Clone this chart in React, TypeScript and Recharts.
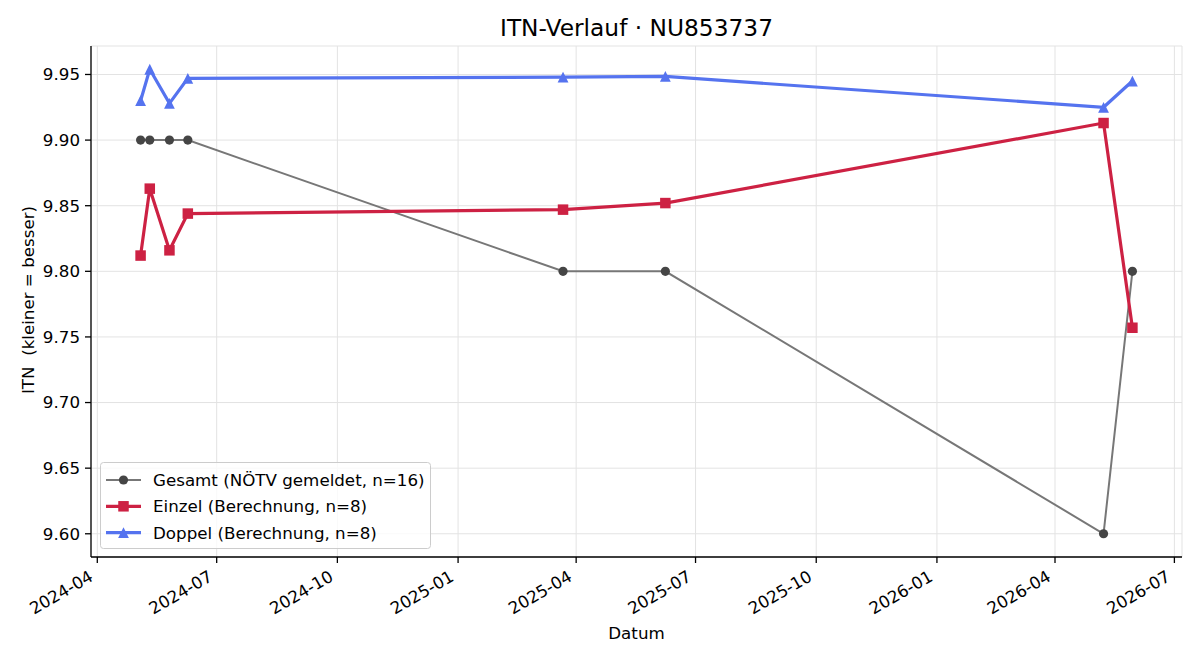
import React from 'react';
import { LineChart, Line, XAxis, YAxis, CartesianGrid, Legend } from 'recharts';

const dates = ['2024-05-04', '2024-05-11', '2024-05-26', '2024-06-09', '2025-03-22', '2025-06-08', '2026-05-08', '2026-05-30'];
const gesamt = [9.9, 9.9, 9.9, 9.9, 9.8, 9.8, 9.6, 9.8];
const einzel = [9.812, 9.863, 9.816, 9.844, 9.847, 9.852, 9.913, 9.757];
const doppel = [9.930, 9.954, 9.928, 9.947, 9.948, 9.9485, 9.925, 9.945];
const xTickLabels = ['2024-04', '2024-07', '2024-10', '2025-01', '2025-04', '2025-07', '2025-10', '2026-01', '2026-04', '2026-07'];
const yTickValues = [9.6, 9.65, 9.7, 9.75, 9.8, 9.85, 9.9, 9.95];
const seriesNames = ['Gesamt (NÖTV gemeldet, n=16)', 'Einzel (Berechnung, n=8)', 'Doppel (Berechnung, n=8)'];
const titleText = 'ITN-Verlauf · NU853737';
const yLabel = 'ITN  (kleiner = besser)';
const xLabel = 'Datum';

const toTs = (s: string) => {
  const [y, m, d] = s.split('-').map(Number);
  return Date.UTC(y, m - 1, d || 1);
};

const data = dates.map((d, i) => ({ t: toTs(d), gesamt: gesamt[i], einzel: einzel[i], doppel: doppel[i] }));
const xTicks = xTickLabels.map(toTs);

const ts = data.map((d) => d.t);
const tMin = Math.min(...ts), tMax = Math.max(...ts);
const xPad = (tMax - tMin) * 0.05;
const xDomain = [tMin - xPad, tMax + xPad];
const allY = [...gesamt, ...einzel, ...doppel];
const yMin = Math.min(...allY), yMax = Math.max(...allY);
const yPad = (yMax - yMin) * 0.05;
const yDomain = [yMin - yPad, yMax + yPad];

const GRAY_LINE = '#777777';
const GRAY_DOT = '#454545';
const RED = '#cd2143';
const BLUE = '#5573ef';
const FONT = 'DejaVu Sans, sans-serif';
const FS = 16.7;

const fmtMonth = (v: number) => {
  const d = new Date(v);
  return `${d.getUTCFullYear()}-${String(d.getUTCMonth() + 1).padStart(2, '0')}`;
};

const XTick = (props: any) => {
  const { x, y, payload } = props;
  return (
    <g transform={`translate(${x - 3},${y + 15})`}>
      <text x={0} y={0} textAnchor="end" transform="rotate(-30)" fill="#000" fontSize={FS} fontFamily={FONT}>
        {fmtMonth(payload.value)}
      </text>
    </g>
  );
};

const CircleDot = (props: any) => {
  const { cx, cy, index } = props;
  if (cx == null || cy == null) return <g key={`c${index}`} />;
  return <circle key={`c${index}`} cx={cx} cy={cy} r={4.6} fill={GRAY_DOT} />;
};

const SquareDot = (props: any) => {
  const { cx, cy, index } = props;
  if (cx == null || cy == null) return <g key={`s${index}`} />;
  const s = 10.5;
  return <rect key={`s${index}`} x={cx - s / 2} y={cy - s / 2} width={s} height={s} fill={RED} />;
};

const TriDot = (props: any) => {
  const { cx, cy, index } = props;
  if (cx == null || cy == null) return <g key={`t${index}`} />;
  const h = 5.4;
  return <path key={`t${index}`} d={`M${cx},${cy - h} L${cx - h},${cy + h} L${cx + h},${cy + h} Z`} fill={BLUE} />;
};

const LegendBox = () => {
  const rows = [
    { color: GRAY_LINE, w: 2, marker: 'circle' },
    { color: RED, w: 3.2, marker: 'square' },
    { color: BLUE, w: 3.2, marker: 'tri' },
  ];
  return (
    <svg width={332} height={88} style={{ display: 'block' }}>
      <rect x={0.5} y={0.5} width={330} height={86} rx={3} fill="#ffffff" fillOpacity={0.8} stroke="#cccccc" />
      {rows.map((r, i) => {
        const y = 18 + i * 26.3;
        const mx = 23.5;
        let m: any = null;
        if (r.marker === 'circle') m = <circle cx={mx} cy={y} r={4.6} fill={GRAY_DOT} />;
        if (r.marker === 'square') m = <rect x={mx - 5.25} y={y - 5.25} width={10.5} height={10.5} fill={RED} />;
        if (r.marker === 'tri') m = <path d={`M${mx},${y - 5.4} L${mx - 5.4},${y + 5.4} L${mx + 5.4},${y + 5.4} Z`} fill={BLUE} />;
        return (
          <g key={i}>
            <line x1={6} x2={41} y1={y} y2={y} stroke={r.color} strokeWidth={r.w} />
            {m}
            <text x={53} y={y} dominantBaseline="central" fontSize={FS} fontFamily={FONT} fill="#000">
              {seriesNames[i]}
            </text>
          </g>
        );
      })}
    </svg>
  );
};

export default function App() {
  return (
    <div style={{ position: 'absolute', left: 0, top: 0, width: 1200, height: 660, fontFamily: FONT, background: '#fff' }}>
      <div
        style={{
          position: 'absolute', left: 91, width: 1091, top: 14, lineHeight: '28px', fontSize: 23.3,
          textAlign: 'center', color: '#000', whiteSpace: 'pre',
        }}
      >
        {titleText}
      </div>
      <div
        style={{
          position: 'absolute', left: 27.5 - 150, top: 300 - 10, width: 300, height: 20, lineHeight: '20px',
          fontSize: FS, textAlign: 'center', transform: 'rotate(-90deg)', whiteSpace: 'pre', color: '#000',
        }}
      >
        {yLabel}
      </div>
      <div
        style={{
          position: 'absolute', left: 91, width: 1091, top: 623, lineHeight: '20px', fontSize: FS,
          textAlign: 'center', color: '#000',
        }}
      >
        {xLabel}
      </div>
      <LineChart width={1200} height={660} data={data} margin={{ top: 46, right: 18, bottom: 0, left: 0 }}>
        <CartesianGrid stroke="#e3e3e3" strokeWidth={1} />
        <XAxis
          dataKey="t"
          type="number"
          domain={xDomain}
          ticks={xTicks}
          allowDataOverflow
          height={103}
          tick={<XTick />}
          tickSize={6}
          tickMargin={2}
          tickLine={{ stroke: '#000', strokeWidth: 1.3 }}
          axisLine={{ stroke: '#000', strokeWidth: 1.3 }}
          interval={0}
        />
        <XAxis
          xAxisId="top"
          dataKey="t"
          type="number"
          orientation="top"
          domain={xDomain}
          allowDataOverflow
          height={0}
          tick={false}
          tickLine={false}
          axisLine={{ stroke: '#000', strokeWidth: 1.3 }}
        />
        <YAxis
          type="number"
          domain={yDomain}
          ticks={yTickValues}
          allowDataOverflow
          width={91}
          tickFormatter={(v: number) => v.toFixed(2)}
          tick={{ fill: '#000', fontSize: FS, fontFamily: FONT }}
          tickSize={6}
          tickMargin={5}
          tickLine={{ stroke: '#000', strokeWidth: 1.3 }}
          axisLine={{ stroke: '#000', strokeWidth: 1.3 }}
          interval={0}
        />
        <YAxis
          yAxisId="right"
          orientation="right"
          type="number"
          domain={yDomain}
          allowDataOverflow
          width={0}
          tick={false}
          tickLine={false}
          axisLine={{ stroke: '#000', strokeWidth: 1.3 }}
        />
        <Legend
          layout="horizontal"
          verticalAlign="middle"
          align="center"
          wrapperStyle={{ left: 100, top: 462, width: 332, height: 88 }}
          content={() => <LegendBox />}
        />
        <Line
          dataKey="gesamt"
          name={seriesNames[0]}
          stroke={GRAY_LINE}
          strokeWidth={2}
          dot={CircleDot}
          activeDot={false}
          isAnimationActive={false}
        />
        <Line
          dataKey="einzel"
          name={seriesNames[1]}
          stroke={RED}
          strokeWidth={3.2}
          dot={SquareDot}
          activeDot={false}
          isAnimationActive={false}
        />
        <Line
          dataKey="doppel"
          name={seriesNames[2]}
          stroke={BLUE}
          strokeWidth={3.2}
          dot={TriDot}
          activeDot={false}
          isAnimationActive={false}
        />
      </LineChart>
    </div>
  );
}
